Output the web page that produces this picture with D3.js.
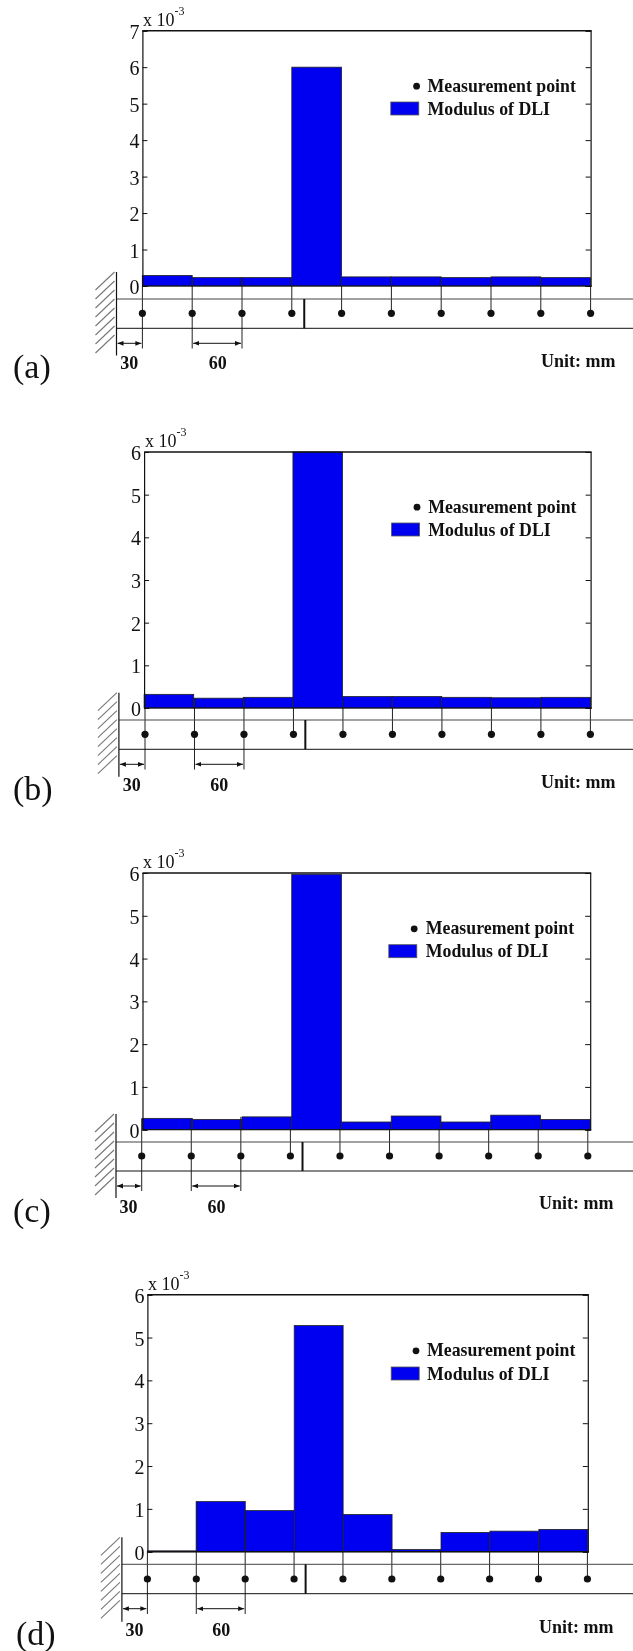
<!DOCTYPE html>
<html>
<head>
<meta charset="utf-8">
<script src="https://cdn.jsdelivr.net/npm/d3@7"></script>
<style>
  html, body { margin: 0; padding: 0; background: #fff; }
  svg { display: block; filter: blur(0.35px); }
  text { font-family: "Liberation Serif", serif; fill: #111; }
  .bold { font-weight: bold; }
</style>
</head>
<body>
<svg id="chart" width="633" height="1651"></svg>
<script>
// measurement points along the beam, mm from the clamped end
var pointsMm = [30, 90, 150, 210, 270, 330, 390, 450, 510, 570]

// modulus of DLI between neighbouring points (x 10^-3)
var valuesA = [0.29, 0.23, 0.23, 6.0, 0.25, 0.25, 0.23, 0.25, 0.23]
var valuesB = [0.32, 0.23, 0.25, 6.0, 0.27, 0.27, 0.25, 0.24, 0.25]
var valuesC = [0.265, 0.24, 0.30, 5.97, 0.18, 0.32, 0.18, 0.34, 0.24]
var valuesD = [0.02, 1.17, 0.96, 5.28, 0.87, 0.05, 0.45, 0.48, 0.52]

var labels = ['(a)', '(b)', '(c)', '(d)']
var yMaxes = [7, 6, 6, 6]
var crackMm = [225, 225, 223, 224]
var legendTexts = ['Measurement point', 'Modulus of DLI']

// pixel layout of each panel
var layouts = [
  { l: 142.4, r: 590.6, top: 30.7, zero: 286, bt: 299, bb: 328.3, dotY: 313.3, arrowY: 343.3, dimY: 348.5, wall: 116.5, wallTop: 272, wallBot: 355.5, dotL: 142.4, dotR: 590.6, legDot: 416.6, legY: 85.7, legX: 427.5, swL: 390.8, swY: 102, unit: [541, 366.5], dim30: 120.3, dim60: 208.7, dimBase: 369, lab: [13, 378], expX: 143, expY: 26 },
  { l: 144.1, r: 590.6, top: 452, zero: 708, bt: 720, bb: 749.3, dotY: 734.3, arrowY: 764.3, dimY: 769.5, wall: 118.9, wallTop: 692.7, wallBot: 776.7, dotL: 145, dotR: 590.4, legDot: 417, legY: 506.7, legX: 428.2, swL: 391.6, swY: 523, unit: [541, 787.7], dim30: 122.7, dim60: 210.3, dimBase: 791, lab: [13, 800], expX: 145, expY: 447 },
  { l: 142.5, r: 590.2, top: 873, zero: 1129.7, bt: 1142, bb: 1171, dotY: 1156, arrowY: 1186, dimY: 1191, wall: 116, wallTop: 1114, wallBot: 1198, dotL: 141.7, dotR: 587.8, legDot: 414.2, legY: 928.3, legX: 425.8, swL: 388.8, swY: 944.7, unit: [539, 1209], dim30: 119.5, dim60: 207.5, dimBase: 1212.7, lab: [13, 1222], expX: 143, expY: 868 },
  { l: 147.4, r: 587.8, top: 1294.7, zero: 1551.7, bt: 1564.3, bb: 1593.7, dotY: 1579, arrowY: 1608.7, dimY: 1614, wall: 121.9, wallTop: 1537.3, wallBot: 1621.7, dotL: 147.4, dotR: 587.4, legDot: 416, legY: 1350.3, legX: 427, swL: 391.2, swY: 1367, unit: [539, 1632.7], dim30: 125.5, dim60: 212.3, dimBase: 1636, lab: [16, 1645], expX: 148, expY: 1290 }
]

var allValues = [valuesA, valuesB, valuesC, valuesD]
var blue = '#0000f0'
var lineColor = '#222'

var svg = d3.select('#chart')

var defs = svg.append('defs')
defs.append('marker')
  .attr('id', 'arrowEnd').attr('viewBox', '0 0 6 6').attr('refX', 6).attr('refY', 3)
  .attr('markerWidth', 6).attr('markerHeight', 6).attr('orient', 'auto-start-reverse')
  .attr('markerUnits', 'userSpaceOnUse')
  .append('path').attr('d', 'M0,0.6L6,3L0,5.4Z').attr('fill', '#111')

layouts.forEach(function (p, idx) {
  var values = allValues[idx]
  var g = svg.append('g')

  var x = d3.scaleLinear().domain([30, 570]).range([p.l, p.r])
  var dotX = d3.scaleLinear().domain([30, 570]).range([p.dotL, p.dotR])
  var y = d3.scaleLinear().domain([0, yMaxes[idx]]).range([p.zero, p.top])

  // bars
  g.selectAll('rect.bar').data(values).enter().append('rect')
    .attr('class', 'bar')
    .attr('x', function (d, i) { return x(pointsMm[i]) })
    .attr('y', function (d) { return y(d) })
    .attr('width', function (d, i) { return x(pointsMm[i + 1]) - x(pointsMm[i]) })
    .attr('height', function (d) { return y(0) - y(d) })
    .attr('fill', blue)
    .attr('stroke', lineColor)
    .attr('stroke-width', 0.8)

  // stems from the baseline to the beam; first three continue as dimension lines
  g.selectAll('line.stem').data(pointsMm).enter().append('line')
    .attr('class', 'stem')
    .attr('x1', function (d) { return dotX(d) })
    .attr('x2', function (d) { return dotX(d) })
    .attr('y1', function (d, i) { return i >= 3 ? y(0) : y(values[i]) })
    .attr('y2', function (d, i) { return i < 3 ? p.dimY : p.dotY })
    .attr('stroke', lineColor)
    .attr('stroke-width', 1)

  // frame and ticks
  var yTicks = d3.range(0, yMaxes[idx] + 1)
  var left = g.append('g').attr('transform', 'translate(' + p.l + ',0)')
    .call(d3.axisLeft(y).tickValues(yTicks).tickSize(-5).tickFormat(d3.format('d')))
  left.select('.domain').attr('stroke', '#111').attr('stroke-width', 1.2)
  left.selectAll('.tick line').attr('stroke', '#111')
  left.selectAll('.tick text')
    .attr('x', -3)
    .attr('dy', '0.38em')
    .style('font-family', '"Liberation Serif", serif')
    .style('font-size', '20px')
    .attr('fill', '#111')

  var right = g.append('g').attr('transform', 'translate(' + p.r + ',0)')
    .call(d3.axisRight(y).tickValues(yTicks).tickSize(-5).tickFormat(''))
  right.select('.domain').attr('stroke', '#111').attr('stroke-width', 1.2)
  right.selectAll('.tick line').attr('stroke', '#111')

  g.append('line')
    .attr('x1', p.l).attr('x2', p.r + 1).attr('y1', p.top).attr('y2', p.top)
    .attr('stroke', '#111').attr('stroke-width', 1.4)
  g.append('line')
    .attr('x1', p.l).attr('x2', p.r + 1).attr('y1', p.zero).attr('y2', p.zero)
    .attr('stroke', '#111').attr('stroke-width', idx === 3 ? 1.4 : 1)

  // exponent
  var exp = g.append('text').attr('x', p.expX).attr('y', p.expY).style('font-size', '18px').text('x 10')
  exp.append('tspan').attr('dy', -11).style('font-size', '12px').text('-3')

  // beam
  g.append('line').attr('x1', p.wall).attr('x2', 633).attr('y1', p.bt).attr('y2', p.bt)
    .attr('stroke', '#444').attr('stroke-width', 1)
  g.append('line').attr('x1', p.wall).attr('x2', 633).attr('y1', p.bb).attr('y2', p.bb)
    .attr('stroke', '#111').attr('stroke-width', 1)
  g.append('line').attr('x1', p.wall).attr('x2', p.wall).attr('y1', p.wallTop).attr('y2', p.wallBot)
    .attr('stroke', '#111').attr('stroke-width', 1.2)
  g.append('line').attr('x1', x(crackMm[idx])).attr('x2', x(crackMm[idx])).attr('y1', p.bt).attr('y2', p.bb)
    .attr('stroke', '#111').attr('stroke-width', 2)

  // wall hatching
  var hatch = d3.range(p.wallTop + 18, p.wallBot + 1, 9)
  g.selectAll('line.hatch').data(hatch).enter().append('line')
    .attr('class', 'hatch')
    .attr('x1', p.wall - 21).attr('x2', p.wall - 2)
    .attr('y1', function (d) { return d }).attr('y2', function (d) { return d - 18 })
    .attr('stroke', '#777').attr('stroke-width', 1.1)

  // measurement dots
  g.selectAll('circle.pt').data(pointsMm).enter().append('circle')
    .attr('class', 'pt')
    .attr('cx', function (d) { return dotX(d) })
    .attr('cy', p.dotY)
    .attr('r', 3.6)
    .attr('fill', '#111')

  // dimension arrows
  g.append('line')
    .attr('x1', p.wall + 1).attr('x2', dotX(pointsMm[0]) - 1).attr('y1', p.arrowY).attr('y2', p.arrowY)
    .attr('stroke', '#111').attr('stroke-width', 1)
    .attr('marker-start', 'url(#arrowEnd)').attr('marker-end', 'url(#arrowEnd)')
  g.append('line')
    .attr('x1', dotX(pointsMm[1]) + 1).attr('x2', dotX(pointsMm[2]) - 1).attr('y1', p.arrowY).attr('y2', p.arrowY)
    .attr('stroke', '#111').attr('stroke-width', 1)
    .attr('marker-start', 'url(#arrowEnd)').attr('marker-end', 'url(#arrowEnd)')
  g.append('text').attr('class', 'bold').attr('x', p.dim30).attr('y', p.dimBase).style('font-size', '18px').text('30')
  g.append('text').attr('class', 'bold').attr('x', p.dim60).attr('y', p.dimBase).style('font-size', '18px').text('60')
  g.append('text').attr('class', 'bold').attr('x', p.unit[0]).attr('y', p.unit[1]).style('font-size', '18px').text('Unit: mm')

  // legend
  g.append('circle').attr('cx', p.legDot).attr('cy', p.legY + 0.5).attr('r', 3.4).attr('fill', '#111')
  g.append('text').attr('class', 'bold').attr('x', p.legX).attr('y', p.legY + 6).style('font-size', '17.8px').text(legendTexts[0])
  g.append('rect').attr('x', p.swL).attr('y', p.swY).attr('width', 28).attr('height', 13)
    .attr('fill', blue).attr('stroke', '#555').attr('stroke-width', 0.8)
  g.append('text').attr('class', 'bold').attr('x', p.legX).attr('y', p.swY + 12.5).style('font-size', '17.8px').text(legendTexts[1])

  // panel letter
  g.append('text').attr('x', p.lab[0]).attr('y', p.lab[1]).style('font-size', '34px').text(labels[idx])
})
</script>
</body>
</html>
